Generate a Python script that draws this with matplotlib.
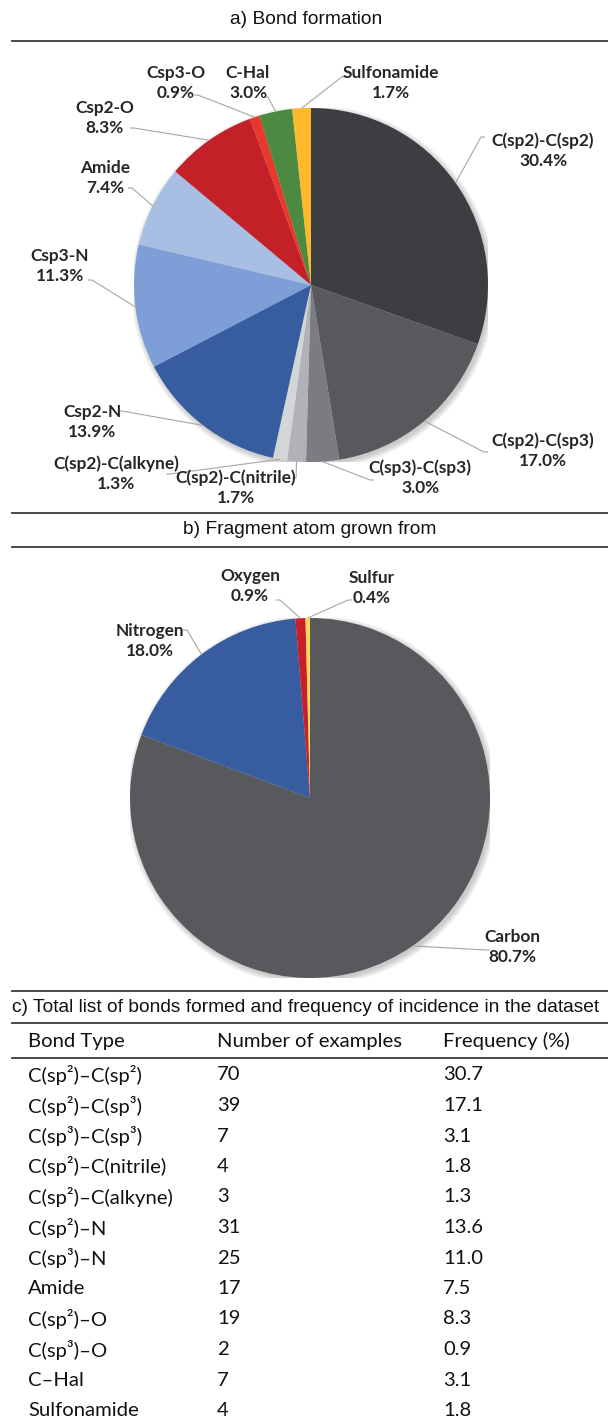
import numpy as np
import matplotlib
matplotlib.use('Agg')
import matplotlib.pyplot as plt
from matplotlib.patches import Circle

# a) bond formation (clockwise from 12 o'clock)
bond_names = ['C(sp2)-C(sp2)', 'C(sp2)-C(sp3)', 'C(sp3)-C(sp3)', 'C(sp2)-C(nitrile)',
              'C(sp2)-C(alkyne)', 'Csp2-N', 'Csp3-N', 'Amide', 'Csp2-O', 'Csp3-O',
              'C-Hal', 'Sulfonamide']
bond_pct = [30.4, 17.0, 3.0, 1.7, 1.3, 13.9, 11.3, 7.4, 8.3, 0.9, 3.0, 1.7]

# b) fragment atom grown from
atom_names = ['Carbon', 'Nitrogen', 'Oxygen', 'Sulfur']
atom_pct = [80.7, 18.0, 0.9, 0.4]

# c) table
table_header = ['Bond Type', 'Number of examples', 'Frequency (%)']
table_bonds = ['C(sp²)–C(sp²)', 'C(sp²)–C(sp³)', 'C(sp³)–C(sp³)', 'C(sp²)–C(nitrile)',
               'C(sp²)–C(alkyne)', 'C(sp²)–N', 'C(sp³)–N', 'Amide', 'C(sp²)–O',
               'C(sp³)–O', 'C–Hal', 'Sulfonamide']
table_counts = [70, 39, 7, 4, 3, 31, 25, 17, 19, 2, 7, 4]
table_freq = [30.7, 17.1, 3.1, 1.8, 1.3, 13.6, 11.0, 7.5, 8.3, 0.9, 3.1, 1.8]

colors_a = ['#3d3e42', '#58595d', '#7b7c80', '#b1b2b6', '#d4d5d7', '#375da0',
            '#7d9ed6', '#a8bee3', '#c32027', '#e8382b', '#4b8a40', '#fdb92c']
colors_b = ['#58595d', '#375da0', '#c8202a', '#fdd65c']

W, H = 608, 1428
fig = plt.figure(figsize=(W / 100, H / 100), dpi=100)
over = fig.add_axes([0, 0, 1, 1], zorder=5)
over.set_xlim(0, W)
over.set_ylim(H, 0)
over.axis('off')
over.patch.set_alpha(0)

label_font = dict(family=['Lato', 'DejaVu Sans'], fontweight='bold', fontsize=12.4, color='#262626')
title_font = dict(family=['Liberation Sans', 'DejaVu Sans'], fontsize=13.8, color='#111111')
table_font = dict(family=['Lato', 'DejaVu Sans'], fontsize=14.6, color='#111111')


def draw_pie(values, colors, cx, cy, r, labels, label_pos, anchors):
    ax = fig.add_axes([(cx - r) / W, 1 - (cy + r) / H, 2 * r / W, 2 * r / H])
    # soft shadow
    for k in range(6):
        ax.add_patch(Circle((0.012, -0.014), 1.0 + 0.006 * k, color='black',
                            alpha=0.035, lw=0, zorder=0))
    ax.pie(values, colors=colors, startangle=90, counterclock=False, radius=1,
           wedgeprops=dict(linewidth=0))
    ax.set_xlim(-1, 1)
    ax.set_ylim(-1, 1)
    ax.set_aspect('equal')
    ax.axis('off')
    total = float(sum(values))
    cum = np.cumsum([0] + list(values))[:-1]
    for i, v in enumerate(values):
        th = np.deg2rad(360 * (cum[i] + v / 2) / total)
        rx, ry = cx + r * np.sin(th), cy - r * np.cos(th)
        tx, ty = label_pos[i]
        ax_, ay_ = anchors[i]
        tick = -4 if tx < ax_ else 4
        over.plot([rx, ax_, ax_ + tick], [ry, ay_, ay_], color='#a6a6a6', lw=0.8,
                  solid_capstyle='butt')
        over.text(tx, ty, f'{labels[i]}\n{v:.1f}%', ha='center', va='center',
                  linespacing=1.3, **label_font)


# separators and titles
for y in [41, 513, 547, 991, 1023, 1058]:
    over.plot([12, W], [y, y], color='#3a3a3a', lw=1.3)
over.text(306, 20, 'a) Bond formation', ha='center', va='center', **title_font)
over.text(310, 530, 'b) Fragment atom grown from', ha='center', va='center', **title_font)
over.text(12, 1008, 'c) Total list of bonds formed and frequency of incidence in the dataset',
          ha='left', va='center', **title_font)

pos_a = [(543, 151), (543, 451), (420, 478), (236, 488), (116, 474), (92, 422),
         (60, 266), (105, 178), (105, 118), (176, 83), (248, 83), (391, 83)]
anc_a = [(481, 137), (484, 452), (370, 480), (296, 478), (170, 474), (122, 411),
         (92, 280), (132, 188), (134, 128), (198, 95), (268, 97), (343, 76)]
draw_pie(bond_pct, colors_a, 311, 285, 177, bond_names, pos_a, anc_a)

pos_b = [(512, 947), (150, 641), (250, 586), (372, 588)]
anc_b = [(486, 950), (187, 630), (280, 600), (348, 600)]
draw_pie(atom_pct, colors_b, 310, 798, 180, atom_names, pos_b, anc_b)

# table
col_x = [28, 217, 443]
for x, h in zip(col_x, table_header):
    over.text(x, 1041, h, ha='left', va='center', **table_font)
for i, (b, n, f) in enumerate(zip(table_bonds, table_counts, table_freq)):
    y = 1075 + i * 30.5
    over.text(col_x[0], y, b, ha='left', va='center', **table_font)
    over.text(col_x[1], y, str(n), ha='left', va='center', **table_font)
    over.text(col_x[2], y, f'{f:.1f}', ha='left', va='center', **table_font)

fig.savefig('out.png', dpi=100)
